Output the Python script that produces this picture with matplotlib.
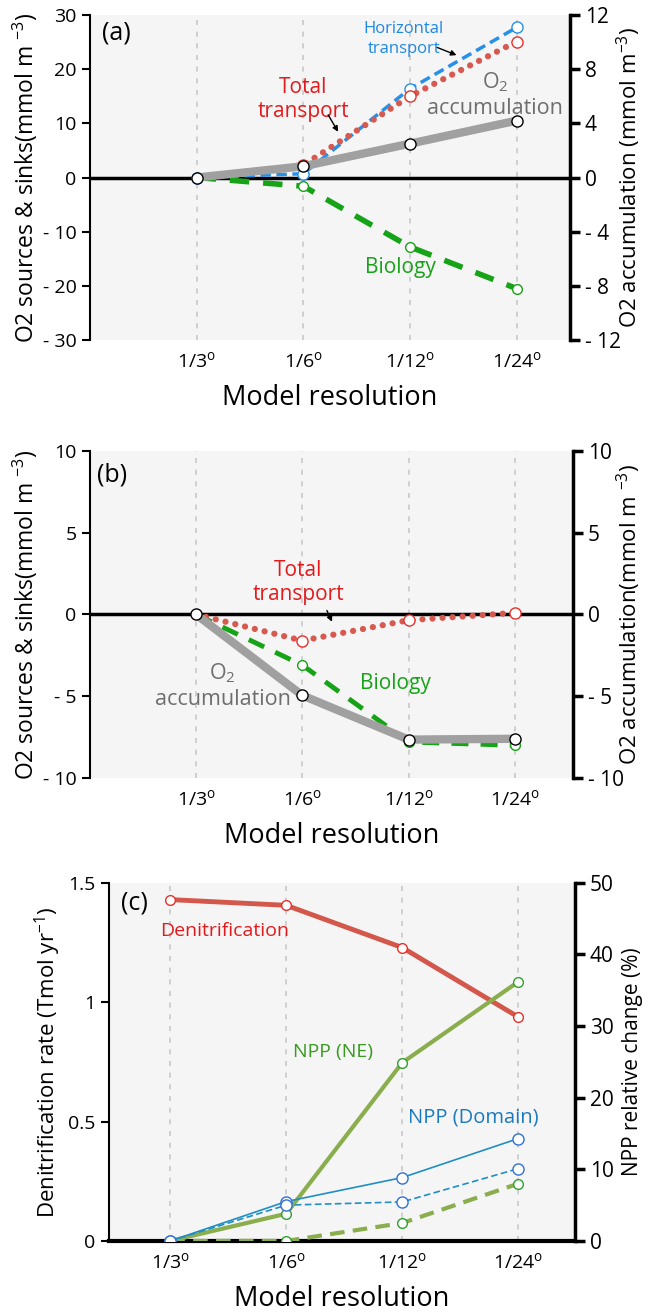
import numpy as np
from matplotlib import pyplot as plt

plt.rcParams['font.family'] = ['Open Sans', 'DejaVu Sans']
plt.rcParams['mathtext.fontset'] = 'custom'
plt.rcParams['mathtext.rm'] = 'Open Sans'
plt.rcParams['mathtext.it'] = 'Open Sans:italic'
plt.rcParams['mathtext.default'] = 'regular'

# x categories
resolutions = ['1/3$^{o}$', '1/6$^{o}$', '1/12$^{o}$', '1/24$^{o}$']
xpos = np.arange(1, len(resolutions) + 1)

# panel (a), left axis (mmol m-3)
a_horizontal = [0.0, 0.7, 16.4, 27.7]
a_total = [0.0, 2.3, 15.0, 25.1]
a_biology = [0.0, -1.6, -12.8, -20.5]
# panel (a), right axis (mmol m-3)
a_accum = [0.0, 0.83, 2.5, 4.2]

# panel (b)
b_total = [0.0, -1.6, -0.35, 0.1]
b_biology = [0.0, -3.1, -7.8, -8.0]
b_accum = [0.0, -4.95, -7.65, -7.6]

# panel (c)
c_denit = [1.430, 1.406, 1.229, 0.938]
c_npp_ne = [0.0, 3.8, 24.9, 36.2]
c_npp_ne_dash = [0.0, 0.0, 2.5, 8.0]
c_npp_dom = [0.0, 5.5, 8.85, 14.3]
c_npp_dom_dash = [0.0, 5.0, 5.45, 10.1]

BG = '#f5f5f5'


def fmt(v, pos):
    if v < 0:
        return '- %g' % abs(v)
    return '%g' % v


def base_axes(fig, rect, xlim):
    ax = fig.add_axes(rect)
    ax.set_facecolor(BG)
    ax.set_xlim(*xlim)
    for x in xpos:
        ax.axvline(x, color='#c8c8c8', ls=(0, (3, 4)), lw=1.2, zorder=0)
    ax.spines['top'].set_visible(False)
    ax.spines['bottom'].set_visible(False)
    ax.spines['right'].set_visible(False)
    ax.spines['left'].set_linewidth(1.5)
    ax.tick_params(axis='y', direction='out', length=6, width=1.5,
                   labelsize=14)
    ax.tick_params(axis='x', length=0, labelsize=14, pad=8)
    ax.set_xticks(xpos)
    ax.set_xticklabels(resolutions)
    ax.set_xlabel('Model resolution', fontsize=19.5, labelpad=9)
    ax.yaxis.set_major_formatter(plt.FuncFormatter(fmt))
    ax2 = ax.twinx()
    ax2.set_facecolor('none')
    for s in ['top', 'bottom', 'left']:
        ax2.spines[s].set_visible(False)
    ax2.spines['right'].set_linewidth(2.5)
    ax2.tick_params(axis='y', direction='out', length=7, width=2.5,
                    labelsize=15)
    ax2.yaxis.set_major_formatter(plt.FuncFormatter(fmt))
    return ax, ax2


fig = plt.figure(figsize=(6.47, 13.14), dpi=100)

# ---------------- (a)
ax, ax2 = base_axes(fig, [0.139, 0.7412, 0.742, 0.2474], (0, 4.5))
ax.set_ylim(-30, 30)
ax.set_yticks([-30, -20, -10, 0, 10, 20, 30])
ax2.set_ylim(-12, 12)
ax2.set_yticks([-12, -8, -4, 0, 4, 8, 12])
ax.axhline(0, color='black', lw=2.5, zorder=1)
ax.plot(xpos, a_biology, color='#17a317', lw=4, ls=(0, (3.5, 2.5)),
        marker='o', ms=7, mfc='white', mec='#17a317', mew=1, zorder=2)
ax.plot(xpos, a_horizontal, color='#2790e8', lw=2.5, ls=(0, (3, 1.6)),
        marker='o', ms=8, mfc='white', mec='#2790e8', mew=1, zorder=3)
ax.plot(xpos, a_total, color='#d65a50', lw=4.5, ls=(0, (0.01, 1.6)),
        dash_capstyle='round', zorder=3)
ax.plot(xpos[1:], a_total[1:], ls='none', marker='o', ms=8, mfc='white',
        mec='#e8302a', mew=1, zorder=3)
ax2.plot(xpos, a_accum, color='#a0a0a0', lw=6, solid_capstyle='round',
         marker='o', ms=8, mfc='white', mec='black', mew=1, zorder=4)
ax.set_ylabel('O2 sources & sinks(mmol m $^{-3}$)', fontsize=16.5,
              labelpad=2)
ax2.set_ylabel('O2 accumulation (mmol m$^{-3}$)', fontsize=16)
ax2.yaxis.set_label_coords(1.094, 0.5)
ax.text(0.25, 26.7, '(a)', fontsize=18, ha='center', va='center')
ax.text(2.94, 25.6, 'Horizontal\ntransport', color='#1e88e5', fontsize=12,
        ha='center', va='center', linespacing=1.3)
ax.annotate('', xy=(3.46, 22.4), xytext=(3.23, 24.2),
            arrowprops=dict(arrowstyle='-|>', color='black', lw=1,
                            mutation_scale=8))
ax.text(2.0, 14.4, 'Total\ntransport', color='#e31a1c', fontsize=15,
        ha='center', va='center', linespacing=1.2)
ax.annotate('', xy=(2.34, 8.0), xytext=(2.22, 12.0),
            arrowprops=dict(arrowstyle='-|>', color='black', lw=1,
                            mutation_scale=8))
ax.text(3.80, 15.3, 'O$_2$\naccumulation', color='#6e6e6e', fontsize=15.5,
        ha='center', va='center', linespacing=1.2)
ax.text(2.91, -16.6, 'Biology', color='#17a317', fontsize=15,
        ha='center', va='center')

# ---------------- (b)
ax, ax2 = base_axes(fig, [0.139, 0.4079, 0.747, 0.2489], (0, 4.55))
ax.set_ylim(-10, 10)
ax.set_yticks([-10, -5, 0, 5, 10])
ax2.set_ylim(-10, 10)
ax2.set_yticks([-10, -5, 0, 5, 10])
ax.axhline(0, color='black', lw=2.5, zorder=1)
ax.plot(xpos, b_biology, color='#17a317', lw=3.5, ls=(0, (3.5, 2.5)),
        marker='o', ms=7, mfc='white', mec='#17a317', mew=1, zorder=2)
ax.plot(xpos, b_total, color='#d65a50', lw=4.5, ls=(0, (0.01, 1.6)),
        dash_capstyle='round', zorder=3)
ax.plot(xpos[1:], b_total[1:], ls='none', marker='o', ms=8, mfc='white',
        mec='#e8302a', mew=1, zorder=3)
ax2.plot(xpos, b_accum, color='#a0a0a0', lw=6, solid_capstyle='round',
         marker='o', ms=8, mfc='white', mec='black', mew=1, zorder=4)
ax.set_ylabel('O2 sources & sinks(mmol m $^{-3}$)', fontsize=16.5,
              labelpad=2)
ax2.set_ylabel('O2 accumulation(mmol m $^{-3}$)', fontsize=16)
ax2.yaxis.set_label_coords(1.087, 0.5)
ax.text(0.21, 8.5, '(b)', fontsize=18, ha='center', va='center')
ax.text(1.96, 1.94, 'Total\ntransport', color='#e31a1c', fontsize=15,
        ha='center', va='center', linespacing=1.2)
ax.annotate('', xy=(2.29, -0.6), xytext=(2.22, 0.4),
            arrowprops=dict(arrowstyle='-|>', color='black', lw=1,
                            mutation_scale=8))
ax.text(1.25, -4.36, 'O$_2$\naccumulation', color='#6e6e6e', fontsize=15.5,
        ha='center', va='center', linespacing=1.2)
ax.text(2.88, -4.2, 'Biology', color='#17a317', fontsize=15,
        ha='center', va='center')

# ---------------- (c)
ax, ax2 = base_axes(fig, [0.168, 0.0556, 0.721, 0.2725], (0.47, 4.49))
ax.set_ylim(0, 1.5)
ax.set_yticks([0, 0.5, 1, 1.5])
ax2.set_ylim(0, 50)
ax2.set_yticks([0, 10, 20, 30, 40, 50])
ax.axhline(0, color='black', lw=3, zorder=5, clip_on=False)
ax.plot(xpos, c_denit, color='#d4574c', lw=3.5, marker='o', ms=7,
        mfc='white', mec='#e8302a', mew=1, zorder=3)
ax2.plot(xpos, c_npp_ne, color='#8aae4e', lw=3, marker='o', ms=7,
         mfc='white', mec='#2ea02e', mew=1, zorder=3)
ax2.plot(xpos, c_npp_ne_dash, color='#8aae4e', lw=3, ls=(0, (3.5, 2)),
         marker='o', ms=7, mfc='white', mec='#2ea02e', mew=1, zorder=3)
ax2.plot(xpos, c_npp_dom, color='#1f8fc4', lw=1.2, marker='o', ms=8,
         mfc='white', mec='#2f6fd8', mew=1, zorder=4)
ax2.plot(xpos, c_npp_dom_dash, color='#1f8fc4', lw=1.2, ls=(0, (4, 2)),
         marker='o', ms=8, mfc='white', mec='#2f6fd8', mew=1, zorder=4)
ax.set_ylabel('Denitrification rate (Tmol yr$^{-1}$)', fontsize=16,
              labelpad=4)
ax2.set_ylabel('NPP relative change (%)', fontsize=15)
ax2.yaxis.set_label_coords(1.1, 0.5)
ax.text(0.69, 1.415, '(c)', fontsize=18, ha='center', va='center')
ax.text(1.47, 1.30, 'Denitrification', color='#e31a1c', fontsize=14,
        ha='center', va='center')
ax.text(2.40, 0.79, 'NPP (NE)', color='#3a9a22', fontsize=14,
        ha='center', va='center')
ax.text(3.61, 0.518, 'NPP (Domain)', color='#1a7abf', fontsize=14.5,
        ha='center', va='center')

plt.savefig('out.png', dpi=100)
plt.close()
